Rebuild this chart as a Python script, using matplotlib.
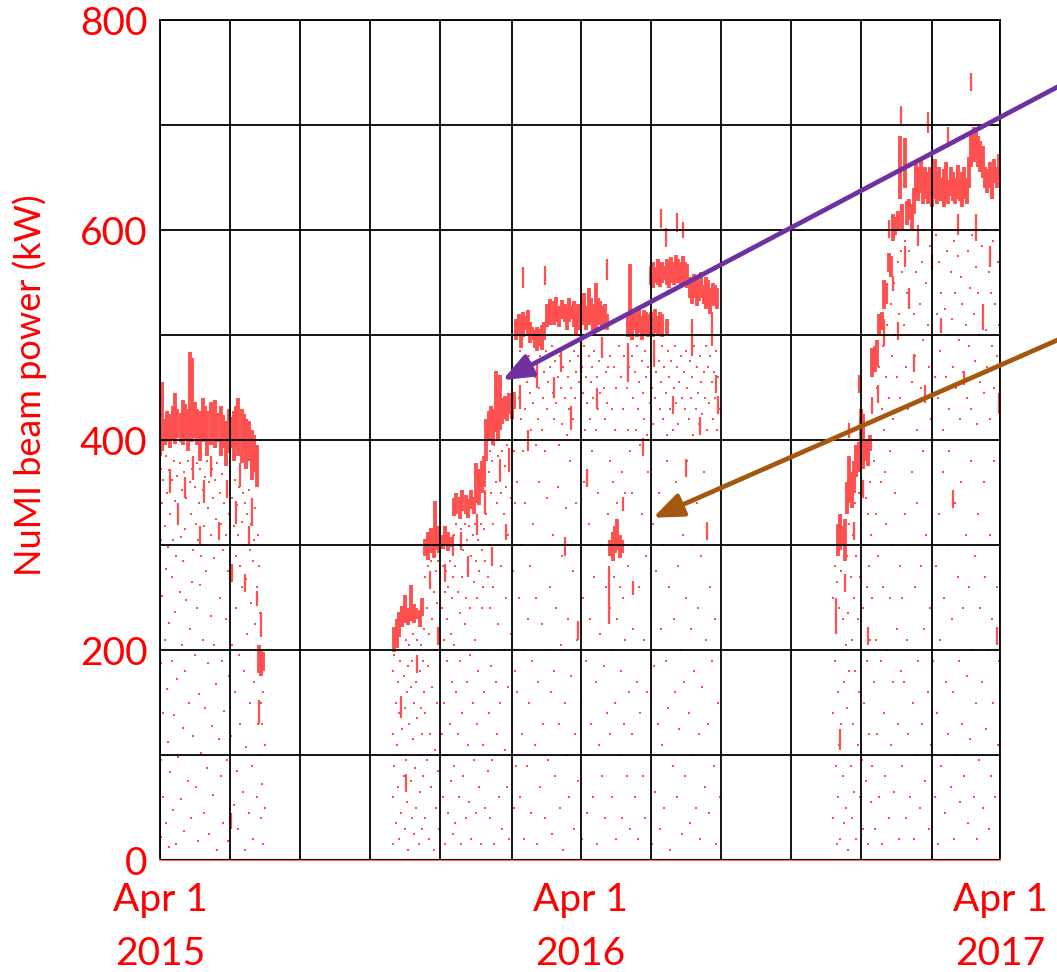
import numpy as np
import pandas as pd
import matplotlib
matplotlib.use("Agg")
import matplotlib.pyplot as plt

plt.rcParams['font.family'] = ['Lato', 'DejaVu Sans']

START = pd.Timestamp('2015-04-01')
END = pd.Timestamp('2017-04-01')
BEAM = '#ff5050'
TEXT = '#ff0000'

# dense running bands: (day since Apr 1 2015, low kW, high kW)
band_run1 = [
    (0, 385, 418), (2, 390, 455), (4, 395, 420), (6, 398, 428), (9, 392, 425),
    (11, 400, 432), (13, 396, 445), (15, 402, 430), (18, 398, 426), (20, 395, 438),
    (22, 400, 434), (24, 390, 430), (26, 405, 484), (28, 398, 478), (30, 402, 436),
    (32, 395, 430), (35, 380, 428), (37, 398, 440), (39, 400, 432), (41, 385, 428),
    (44, 395, 436), (46, 400, 430), (48, 392, 438), (50, 398, 426), (53, 385, 432),
    (55, 392, 424), (57, 375, 418), (60, 388, 430), (62, 392, 422), (64, 380, 428),
    (66, 395, 432), (68, 385, 440), (71, 378, 430), (73, 390, 425), (75, 372, 420),
    (77, 380, 418), (80, 362, 410), (82, 370, 405), (84, 355, 395),
    (86, 178, 205), (88, 175, 200), (90, 180, 198),
]

band_run2 = [
    (204, 198, 222), (206, 202, 230), (208, 212, 236), (211, 222, 242), (213, 226, 252),
    (216, 224, 240), (218, 228, 262), (221, 226, 244), (223, 230, 240), (226, 222, 238),
    (228, 232, 250), (231, 290, 306), (233, 286, 312), (236, 292, 316), (238, 288, 310),
    (239, 300, 342), (241, 295, 318), (243, 292, 312), (246, 296, 310), (248, 300, 318),
    (251, 294, 312), (253, 298, 308), (256, 328, 345), (258, 330, 350), (261, 325, 346),
    (263, 332, 352), (266, 330, 348), (268, 326, 344), (271, 334, 352), (273, 330, 346),
    (275, 340, 378), (278, 338, 372), (280, 350, 380), (282, 355, 385), (284, 380, 420),
    (286, 400, 428), (288, 405, 432), (290, 395, 430), (292, 408, 466), (294, 400, 436),
    (296, 410, 462), (298, 415, 440), (300, 420, 442), (302, 418, 438), (304, 425, 445),
    (306, 420, 440), (308, 430, 446), (310, 495, 515), (312, 500, 520), (314, 488, 512),
    (316, 498, 522), (318, 505, 518), (320, 500, 524), (322, 492, 512), (324, 495, 508),
    (326, 488, 505), (328, 485, 508), (330, 490, 506), (332, 486, 510), (334, 495, 512),
    (337, 508, 530), (339, 510, 534), (341, 515, 528), (343, 510, 532), (345, 512, 536),
    (347, 508, 528), (350, 515, 533), (352, 512, 530), (354, 505, 525), (356, 512, 535),
    (358, 515, 528), (360, 508, 532), (362, 500, 520), (364, 505, 530), (367, 510, 535),
    (369, 512, 540), (371, 505, 528), (373, 510, 545), (375, 512, 535), (377, 500, 530),
    (379, 505, 550), (381, 510, 535), (383, 515, 532), (385, 505, 528), (387, 510, 530),
    (389, 505, 520), (392, 290, 305), (394, 285, 312), (396, 292, 318), (398, 295, 325),
    (400, 288, 310), (402, 292, 305), (407, 498, 520), (409, 500, 568), (411, 495, 522),
    (413, 505, 525), (415, 498, 520), (417, 502, 528), (419, 495, 518), (421, 500, 524),
    (423, 505, 522), (425, 498, 520), (427, 548, 566), (427, 500, 522), (429, 545, 570),
    (429, 498, 520), (431, 550, 565), (431, 502, 525), (433, 548, 572), (433, 500, 518),
    (435, 546, 568), (435, 505, 522), (437, 550, 570), (437, 498, 520), (439, 552, 566),
    (441, 548, 572), (441, 500, 515), (443, 545, 568), (445, 550, 574), (447, 548, 570),
    (449, 552, 576), (451, 550, 572), (453, 545, 570), (455, 548, 575), (457, 550, 570),
    (459, 545, 568), (461, 535, 555), (463, 530, 552), (465, 535, 558), (467, 528, 555),
    (469, 532, 550), (471, 535, 560), (473, 530, 548), (475, 525, 555), (477, 530, 552),
    (479, 520, 545), (481, 528, 550), (483, 530, 548), (485, 525, 545),
]

band_run3 = [
    (590, 290, 320), (592, 295, 330), (594, 300, 318), (596, 285, 325), (598, 330, 360),
    (600, 340, 385), (602, 335, 370), (604, 350, 380), (606, 365, 395), (608, 370, 398),
    (610, 378, 430), (612, 372, 425), (614, 380, 400), (616, 375, 398), (618, 390, 405),
    (620, 460, 488), (622, 465, 490), (624, 470, 495), (626, 500, 520), (628, 505, 522),
    (630, 525, 552), (632, 530, 550), (634, 560, 578), (636, 555, 575), (638, 590, 615),
    (640, 595, 612), (642, 600, 618), (644, 630, 690), (646, 600, 625), (648, 640, 688),
    (650, 605, 628), (652, 610, 630), (654, 600, 625), (656, 615, 640), (658, 630, 665),
    (660, 628, 660), (662, 635, 668), (664, 625, 655), (666, 630, 660), (668, 625, 655),
    (670, 628, 660), (672, 622, 650), (674, 630, 668), (676, 625, 655), (678, 630, 660),
    (680, 628, 650), (682, 622, 658), (684, 630, 665), (686, 625, 648), (688, 632, 660),
    (690, 628, 655), (692, 625, 650), (694, 630, 662), (696, 628, 648), (698, 622, 655),
    (700, 630, 660), (702, 625, 650), (704, 640, 670), (706, 660, 692), (708, 665, 698),
    (710, 670, 695), (712, 660, 690), (714, 655, 685), (716, 650, 680), (718, 640, 660),
    (720, 635, 658), (722, 640, 665), (724, 630, 655), (726, 645, 668), (728, 640, 660),
    (730, 650, 672),
]

# short vertical smears below and above the bands
streaks = [
    (9, 350, 372), (16, 320, 340), (22, 345, 365), (29, 362, 385), (35, 300, 318),
    (38, 340, 362), (44, 365, 385), (51, 305, 322), (58, 345, 362), (63, 265, 282),
    (66, 320, 342), (70, 355, 378), (74, 255, 272), (77, 300, 318), (80, 318, 345),
    (84, 242, 256), (86, 130, 152), (88, 212, 236), (62, 30, 45),
    (210, 135, 155), (214, 65, 82), (224, 178, 195), (235, 258, 275), (242, 205, 222),
    (248, 265, 282), (255, 290, 310), (262, 295, 312), (268, 270, 290), (276, 310, 330),
    (283, 330, 352), (289, 280, 298), (296, 360, 382), (301, 305, 320), (304, 370, 392),
    (313, 430, 452), (316, 545, 565), (320, 390, 410), (328, 450, 472), (335, 548, 566),
    (343, 440, 460), (349, 465, 485), (352, 290, 308), (358, 410, 432), (364, 210, 228),
    (366, 465, 495), (372, 355, 372), (380, 430, 450), (385, 478, 498), (389, 552, 572),
    (391, 225, 280), (403, 332, 346), (407, 455, 492), (412, 252, 266), (420, 385, 402),
    (430, 470, 495), (436, 602, 620), (440, 584, 602), (446, 425, 442), (450, 598, 616),
    (455, 592, 608), (458, 365, 382), (463, 480, 515), (470, 405, 422), (476, 305, 322),
    (480, 490, 522), (484, 445, 462), (486, 425, 442),
    (588, 215, 250), (592, 105, 125), (596, 255, 272), (600, 402, 416), (604, 305, 322),
    (608, 445, 462), (612, 345, 362), (616, 205, 222), (620, 425, 440), (625, 435, 452),
    (630, 490, 515), (634, 592, 610), (638, 542, 556), (642, 495, 512), (645, 700, 718),
    (648, 565, 585), (652, 525, 545), (656, 465, 482), (660, 585, 605), (666, 435, 452),
    (668, 692, 712), (672, 562, 576), (680, 502, 516), (686, 682, 698), (690, 335, 352),
    (694, 595, 615), (700, 452, 466), (706, 732, 750), (710, 590, 615), (716, 505, 530),
    (722, 565, 585), (728, 205, 222), (730, 425, 445),
]

# isolated readings
dots_run1 = [
    (1,372),(1,305),(1,188),(1,95),(1,22),(2,340),(2,251),(3,362),(3,140),(3,60),(4,318),(4,210),
    (5,385),(5,277),(5,35),(6,350),(6,163),(7,298),(7,112),(8,371),(8,226),(8,12),(9,330),(9,84),
    (10,362),(10,270),(10,190),(11,305),(11,48),(12,380),(12,138),(13,342),(13,236),(14,290),(14,15),
    (15,366),(15,172),(16,320),(16,98),(17,378),(17,255),(18,308),(18,58),(19,352),(19,205),(20,285),
    (20,126),(21,370),(21,28),(22,315),(22,180),(23,345),(23,248),(24,380),(24,75),(25,300),(25,150),
    (26,360),(26,220),(27,330),(27,40),(28,372),(28,265),(29,295),(29,118),(30,355),(30,195),(31,320),
    (31,70),(32,378),(32,240),(33,305),(33,18),(34,340),(34,158),(35,372),(35,262),(36,290),(36,102),
    (37,352),(37,210),(38,318),(38,45),(39,365),(39,145),(40,300),(40,275),(41,380),(41,88),(42,335),
    (42,188),(43,360),(43,25),(44,310),(44,232),(45,372),(45,128),(46,345),(46,62),(47,288),(47,205),
    (48,362),(49,325),(49,168),(50,378),(50,10),(51,300),(51,115),(52,350),(52,250),(53,320),(53,80),
    (54,368),(54,190),(55,295),(55,35),(56,340),(56,142),(57,310),(57,230),(58,358),(58,95),(59,275),
    (59,18),(60,330),(60,175),(61,370),(62,300),(62,118),(63,345),(63,205),(64,318),(64,52),(65,362),
    (65,160),(66,290),(66,240),(67,338),(67,85),(68,310),(68,30),(69,355),(69,195),(70,280),(70,130),
    (71,322),(71,260),(72,350),(72,65),(73,300),(73,180),(74,340),(74,10),(75,268),(75,108),(76,330),
    (76,215),(77,352),(77,45),(78,295),(78,150),(79,320),(79,245),(80,340),(80,90),(81,285),(81,20),
    (82,305),(82,170),(83,335),(83,225),(84,260),(84,60),(85,310),(85,130),(86,280),(87,235),(87,100),
    (88,150),(88,40),(89,130),(89,72),(90,160),(90,15),(91,110),(91,50),(86,195),(88,215),
]

dots_run2 = [
    (203,180),(203,120),(203,60),(203,15),(204,195),(204,90),(205,150),(205,35),(206,205),(206,110),
    (207,170),(207,70),(208,140),(208,20),(209,190),(209,100),(210,155),(210,45),(211,200),(211,125),
    (212,80),(212,175),(213,30),(213,145),(214,210),(214,95),(215,160),(215,55),(216,185),(216,10),
    (217,130),(217,205),(218,75),(218,165),(219,40),(219,190),(220,115),(220,215),(221,150),(221,25),
    (222,200),(222,88),(223,170),(223,50),(224,135),(224,210),(225,100),(225,15),(226,180),(226,65),
    (227,145),(227,205),(228,30),(228,120),(229,190),(229,80),(230,160),(230,220),
    (231,270),(231,140),(231,40),(232,240),(232,95),(233,280),(233,185),(234,215),(234,20),(235,260),
    (235,120),(236,285),(236,70),(237,230),(237,165),(238,255),(238,10),(239,200),(239,105),(240,275),
    (240,50),(241,245),(241,150),(242,285),(242,85),(243,220),(243,30),(244,265),(244,180),(245,240),
    (245,120),(246,280),(246,60),(247,210),(247,150),(248,255),(248,15),(249,275),(249,100),(250,230),
    (250,190),(251,260),(251,45),(252,285),(252,130),(253,215),(253,75),(254,250),(254,170),(255,270),
    (255,25),
    (256,310),(256,205),(256,90),(257,280),(257,35),(258,320),(258,160),(259,255),(259,120),(260,300),
    (260,60),(261,235),(261,190),(262,315),(262,15),(263,270),(263,140),(264,295),(264,80),(265,320),
    (265,225),(266,250),(266,40),(267,305),(267,170),(268,280),(268,110),(269,318),(269,55),(270,240),
    (270,195),(271,290),(271,20),(272,310),(272,150),(273,265),(273,95),(274,320),(274,210),(275,285),
    (275,45),(276,250),(276,130),(277,305),(277,180),(278,275),(278,70),(279,320),(279,15),(280,295),
    (280,240),(281,260),(281,110),(282,315),(282,160),(283,285),(283,50),(284,330),(284,200),(285,270),
    (285,85),
    (286,370),(286,300),(286,140),(287,390),(287,240),(287,40),(288,350),(288,185),(289,380),(289,95),
    (290,320),(290,260),(291,395),(291,15),(292,360),(292,170),(293,340),(293,120),(294,385),(294,225),
    (295,300),(295,60),(296,370),(296,150),(297,350),(297,280),(298,390),(298,30),(299,330),(299,200),
    (300,375),(300,105),(301,355),(301,250),(302,395),(302,70),(303,310),(303,165),(304,380),(304,20),
    (305,345),(305,215),(306,365),(306,130),(307,300),(307,275),(308,390),(308,50),(309,340),(309,180),
    (310,400),(310,90),
    (311,470),(311,360),(311,160),(312,440),(312,250),(313,485),(313,60),(314,420),(314,300),(315,460),
    (315,120),(316,390),(316,200),(317,475),(317,20),(318,430),(318,340),(319,455),(319,90),(320,400),
    (320,230),(321,480),(321,150),(322,445),(322,280),(323,410),(323,45),(324,470),(324,190),(325,435),
    (325,320),(326,460),(326,110),(327,395),(327,250),(328,475),(328,15),(329,420),(329,170),(330,450),
    (330,360),(331,480),(331,70),(332,410),(332,225),(333,440),(333,130),(334,465),(334,300),(335,390),
    (335,40),(336,485),(336,200),(337,430),(337,345),(338,455),(338,95),(339,470),(339,260),(340,400),
    (340,160),(341,490),(341,25),(342,445),(342,310),(343,420),(343,180),(344,475),(344,80),(345,435),
    (345,240),(346,460),(346,355),(347,395),(347,130),(348,480),(348,50),(349,450),(349,205),(350,415),
    (350,290),(351,470),(351,10),(352,440),(352,150),(353,490),(353,335),(354,405),(354,100),(355,460),
    (355,230),(356,430),(356,60),(357,475),(357,380),(358,450),(358,175),(359,420),(359,275),(360,485),
    (360,30),(361,440),(361,120),(362,465),(362,340),(363,400),(363,210),(364,480),(364,75),(365,455),
    (365,300),(366,425),(366,150),(367,470),(367,20),(368,445),(368,250),(369,490),(369,360),(370,410),
    (370,100),(371,460),(371,190),(372,435),(372,45),(373,480),(373,320),(374,420),(374,230),(375,455),
    (375,130),(376,470),(376,390),(377,440),(377,60),(378,485),(378,270),(379,410),(379,170),(380,460),
    (380,15),(381,430),(381,350),(382,475),(382,110),(383,445),(383,215),(384,400),(384,300),(385,480),
    (385,80),(386,450),(386,185),(387,420),(387,40),(388,465),(388,260),(389,435),(389,140),(390,470),
    (390,330),
    (392,480),(392,380),(392,240),(392,120),(393,430),(393,60),(394,360),(394,200),(395,470),(395,270),
    (396,410),(396,150),(397,450),(397,20),(398,340),(398,230),(399,490),(399,100),(400,400),(400,260),
    (401,460),(401,180),(402,370),(402,40),(403,430),(403,250),(404,480),(404,130),(405,350),(405,210),
    (406,450),(406,80),(407,410),(407,280),(408,470),(408,160),(409,390),(409,30),
    (411,480),(411,350),(411,120),(412,440),(412,220),(413,465),(413,60),(414,410),(414,300),(415,490),
    (415,170),(416,430),(416,20),(417,455),(417,260),(418,395),(418,140),(419,475),(419,330),(420,445),
    (420,80),(421,420),(421,210),(422,485),(422,40),(423,460),(423,290),(424,405),(424,160),(425,470),
    (425,370),(426,435),(426,100),(427,490),(427,240),(428,450),(428,15),(429,415),(429,320),(430,480),
    (430,185),(431,440),(431,65),(432,465),(432,275),(433,400),(433,130),(434,475),(434,350),(435,430),
    (435,30),(436,455),(436,220),(437,490),(437,110),(438,420),(438,300),(439,470),(439,50),(440,445),
    (440,190),(441,405),(441,380),(442,485),(442,145),(443,460),(443,260),(444,430),(444,10),(445,475),
    (445,330),(446,410),(446,90),(447,450),(447,230),(448,490),(448,160),(449,435),(449,360),(450,470),
    (450,60),(451,415),(451,280),(452,455),(452,125),(453,480),(453,200),(454,440),(454,25),(455,400),
    (455,310),(456,465),(456,170),(457,430),(457,80),(458,485),(458,250),(459,450),(459,380),(460,420),
    (460,140),(461,475),(461,35),(462,440),(462,220),(463,460),(463,300),(464,405),(464,100),(465,490),
    (465,180),(466,430),(466,50),(467,470),(467,340),(468,445),(468,240),(469,415),(469,120),(470,480),
    (470,20),(471,455),(471,290),(472,425),(472,165),(473,465),(473,370),(474,440),(474,70),(475,490),
    (475,210),(476,410),(476,320),(477,470),(477,130),(478,435),(478,45),(479,480),(479,260),(480,455),
    (480,190),(481,420),(481,350),(482,465),(482,90),(483,440),(483,230),(484,485),(484,15),(485,410),
    (485,300),(486,460),(486,150),(487,430),(487,60),
]

dots_run3 = [
    (586,250),(586,140),(586,40),(587,280),(587,190),(588,90),(588,220),(589,15),(589,265),(590,160),
    (590,60),(591,240),(591,110),(592,200),(592,20),(593,275),(593,130),(594,80),(594,230),(595,170),
    (595,35),(596,260),(596,100),(597,205),(597,50),(598,290),(598,145),(599,10),(599,235),(600,320),
    (600,180),(601,90),(601,270),(602,40),(602,210),(603,310),(603,130),(604,250),(604,65),(605,340),
    (605,180),(606,20),(606,290),(607,110),(607,230),(608,350),(608,160),(609,60),(609,270),(610,320),
    (610,200),(611,95),(611,360),(612,240),(612,30),(613,300),(613,150),(614,345),(614,75),(615,260),
    (615,190),(616,330),(616,15),(617,280),(617,120),(618,360),(618,210),(619,55),(619,310),
    (620,440),(620,250),(620,90),(621,380),(621,170),(622,420),(622,30),(623,330),(623,210),(624,450),
    (624,120),(625,400),(625,290),(626,470),(626,60),(627,360),(627,190),(628,430),(628,15),(629,490),
    (629,260),(630,410),(630,140),(631,370),(631,80),(632,460),(632,320),(633,510),(633,200),(634,440),
    (634,40),(635,390),(635,250),(636,530),(636,110),(637,480),(637,300),(638,420),(638,170),(639,550),
    (639,65),(640,500),(640,350),(641,460),(641,220),(642,570),(642,130),(643,520),(643,20),(644,440),
    (644,280),(645,580),(645,180),
    (646,560),(646,400),(646,250),(646,90),(647,510),(647,170),(648,590),(648,330),(649,470),(649,40),
    (650,540),(650,210),(651,430),(651,120),(652,580),(652,300),(653,500),(653,60),(654,455),(654,370),
    (655,600),(655,150),(656,520),(656,20),(657,480),(657,260),(658,560),(658,100),(659,410),(659,340),
    (660,590),(660,190),(661,530),(661,50),(662,450),(662,280),(663,570),(663,130),(664,495),(664,390),
    (665,600),(665,220),(666,440),(666,75),(667,550),(667,310),(668,510),(668,160),(669,470),(669,30),
    (670,585),(670,240),(671,420),(671,110),(672,545),(672,360),(673,500),(673,190),(674,460),(674,60),
    (675,595),(675,280),(676,520),(676,140),(677,440),(677,15),(678,570),(678,330),(679,485),(679,210),
    (680,540),(680,90),(681,410),(681,370),(682,600),(682,250),(683,525),(683,45),(684,460),(684,170),
    (685,580),(685,300),(686,500),(686,120),(687,430),(687,390),(688,560),(688,70),(689,515),(689,230),
    (690,470),(690,160),(691,590),(691,20),(692,540),(692,340),(693,450),(693,100),(694,575),(694,270),
    (695,495),(695,190),(696,420),(696,55),(697,555),(697,360),(698,530),(698,130),(699,465),(699,240),
    (700,600),(700,80),(701,510),(701,310),(702,440),(702,175),(703,580),(703,35),(704,490),(704,260),
    (705,545),(705,115),(706,430),(706,380),(707,595),(707,200),(708,520),(708,60),(709,475),(709,290),
    (710,565),(710,150),(711,415),(711,20),(712,540),(712,330),(713,500),(713,95),(714,455),(714,240),
    (715,585),(715,170),(716,525),(716,50),(717,445),(717,360),(718,600),(718,270),(719,505),(719,125),
    (720,470),(720,200),(721,560),(721,30),(722,420),(722,310),(723,540),(723,80),(724,490),(724,230),
    (725,590),(725,150),(726,450),(726,380),(727,530),(727,60),(728,480),(728,260),(729,570),(729,110),
    (730,510),(730,190),
]

y_ticks = [0, 200, 400, 600, 800]
x_labels = {'2015-04-01': 'Apr 1\n2015', '2016-04-01': 'Apr 1\n2016', '2017-04-01': 'Apr 1\n2017'}

fig = plt.figure(figsize=(10.57, 9.72), dpi=100)
ax = fig.add_axes([0.1514, 0.1152, 0.7947, 0.8642])

for band in (band_run1, band_run2, band_run3):
    b = np.array(band)
    ax.vlines(b[:, 0], b[:, 1], b[:, 2], colors=BEAM, linewidth=2.8, zorder=2)

s = np.array(streaks)
ax.vlines(s[:, 0], s[:, 1], s[:, 2], colors=BEAM, linewidth=1.6, zorder=2)

for dots in (dots_run1, dots_run2, dots_run3):
    d = np.array(dots)
    ax.scatter(d[:, 0], d[:, 1], s=4.2, marker='s', color=BEAM, linewidths=0, zorder=2)

# grid every two months and every 100 kW, labels on the Apr 1 lines
grid_dates = pd.date_range(START, END, freq='2MS')
grid_days = [(t - START).days for t in grid_dates]
ax.set_xticks(grid_days)
ax.set_xticklabels([x_labels.get(t.strftime('%Y-%m-%d'), '') for t in grid_dates])
ax.set_yticks(np.arange(0, 801, 100))
ax.set_yticklabels([str(v) if v in y_ticks else '' for v in range(0, 801, 100)])

ax.set_xlim(0, (END - START).days)
ax.set_ylim(0, 800)
ax.grid(True, which='major', color='black', linewidth=1.3)
ax.set_axisbelow(False)

ax.tick_params(axis='both', which='both', length=0, labelcolor=TEXT, labelsize=28)
ax.tick_params(axis='x', pad=16)
ax.tick_params(axis='y', pad=9)
for lab in ax.get_xticklabels():
    lab.set_linespacing(1.6)

for side in ('left', 'top', 'right'):
    ax.spines[side].set_color('black')
    ax.spines[side].set_linewidth(1.3)
ax.spines['bottom'].set_color('#ff6a6a')
ax.spines['bottom'].set_linewidth(1.6)

ax.set_ylabel('NuMI beam power (kW)', color=TEXT, fontsize=26)
ax.yaxis.set_label_coords(-0.134, 0.565)

# arrows running in from the right edge
ax.annotate('', xy=(298, 457), xycoords='data', xytext=(1.02, 0.9218),
            textcoords='figure fraction', annotation_clip=False,
            arrowprops=dict(arrowstyle='-|>,head_length=0.9,head_width=0.36',
                            mutation_scale=20, color='#7030a0', lw=3.4,
                            shrinkA=0, shrinkB=0))
ax.annotate('', xy=(429, 326), xycoords='data', xytext=(1.02, 0.6595),
            textcoords='figure fraction', annotation_clip=False,
            arrowprops=dict(arrowstyle='-|>,head_length=0.9,head_width=0.36',
                            mutation_scale=20, color='#a5570f', lw=3.4,
                            shrinkA=0, shrinkB=0))

fig.savefig('out.png', dpi=100)
